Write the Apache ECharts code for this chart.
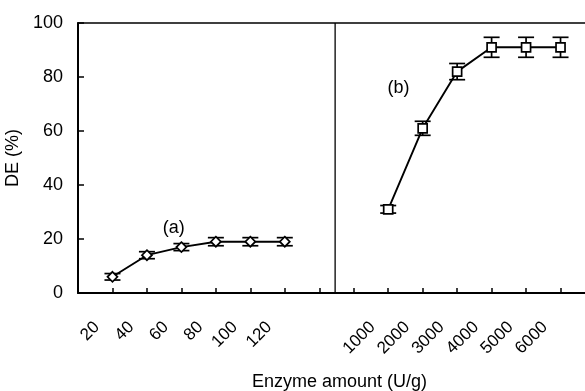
<!DOCTYPE html>
<html>
<head>
<meta charset="utf-8">
<script src="https://cdn.jsdelivr.net/npm/echarts@6/dist/echarts.min.js"></script>
<style>
html,body{margin:0;padding:0;background:#fff;}
#c{width:585px;height:391px;}
</style>
</head>
<body>
<div id="c"></div>
<script>
// ---- data ----
const categories = ['', '20', '40', '60', '80', '100', '120', '', '', '1000', '2000', '3000', '4000', '5000', '6000', ''];
const idxA = [1, 2, 3, 4, 5, 6];
const valuesA = [6, 14, 17, 19, 19, 19];
const errA = [1.2, 1.3, 1.3, 1.5, 1.5, 1.5];
const idxB = [9, 10, 11, 12, 13, 14];
const valuesB = [31, 61, 82, 91, 91, 91];
const errB = [1.4, 2.6, 3.0, 3.7, 3.7, 3.7];
const yTicks = [0, 20, 40, 60, 80, 100];
const labelA = {text: '(a)', x: 2.78, y: 24};
const labelB = {text: '(b)', x: 9.3, y: 76};
const separatorX = 7.46;

const FONT = "'Liberation Sans', Arial, sans-serif";

function fullSeries(idx, vals) {
  const arr = categories.map(() => null);
  idx.forEach((k, i) => { arr[k] = vals[i]; });
  return arr;
}
function errData(idx, vals, errs) {
  return idx.map((k, i) => [k, vals[i] - errs[i], vals[i] + errs[i]]);
}

function renderErr(params, api) {
  const x = api.value(0);
  const lo = api.coord([x, api.value(1)]);
  const hi = api.coord([x, api.value(2)]);
  const hw = 8;
  const st = {stroke: '#000', lineWidth: 1.7, fill: null};
  return {
    type: 'group',
    children: [
      {type: 'line', shape: {x1: lo[0], y1: lo[1], x2: hi[0], y2: hi[1]}, style: st},
      {type: 'line', shape: {x1: lo[0] - hw, y1: lo[1], x2: lo[0] + hw, y2: lo[1]}, style: st},
      {type: 'line', shape: {x1: hi[0] - hw, y1: hi[1], x2: hi[0] + hw, y2: hi[1]}, style: st}
    ]
  };
}

const chart = echarts.init(document.getElementById('c'), null, {renderer: 'canvas'});
const option = {
  animation: false,
  backgroundColor: '#fff',
  textStyle: {fontFamily: FONT},
  grid: {left: 78, top: 23, width: 517, height: 270, outerBoundsMode: 'none', containLabel: false},
  xAxis: [{
    type: 'category',
    data: categories,
    boundaryGap: false,
    position: 'bottom',
    name: 'Enzyme amount (U/g)',
    nameLocation: 'middle',
    nameGap: 80,
    nameTextStyle: {fontSize: 18, color: '#000', fontFamily: FONT, padding: [0, 0, 0, 6]},
    axisLine: {lineStyle: {color: '#000', width: 2}},
    axisTick: {inside: true, length: 5, lineStyle: {color: '#000', width: 1.5},
      interval: function (i) { return i > 0 && i < categories.length - 1; }},
    axisLabel: {rotate: 45, interval: 0, margin: 16, padding: [0, 22, 0, 0],
      fontSize: 17, color: '#000', fontFamily: FONT},
    splitLine: {show: false}
  }, {
    type: 'value',
    min: 0, max: categories.length - 1,
    position: 'top',
    axisLine: {show: true, onZero: false, lineStyle: {color: '#000', width: 1.5}},
    axisTick: {show: false},
    axisLabel: {show: false},
    splitLine: {show: false}
  }],
  yAxis: {
    type: 'value',
    min: yTicks[0], max: yTicks[yTicks.length - 1], interval: yTicks[1] - yTicks[0],
    name: 'DE (%)',
    nameLocation: 'middle',
    nameGap: 49,
    nameTextStyle: {fontSize: 18, color: '#000', fontFamily: FONT},
    axisLine: {show: true, lineStyle: {color: '#000', width: 2}},
    axisTick: {show: true, inside: true, length: 6, lineStyle: {color: '#000', width: 1.5}},
    axisLabel: {margin: 15, fontSize: 18, color: '#000', fontFamily: FONT},
    splitLine: {show: false}
  },
  series: [
    {type: 'custom', xAxisIndex: 0, renderItem: renderErr, data: errData(idxA, valuesA, errA), z: 1, encode: {x: 0, y: [1, 2]}},
    {type: 'custom', xAxisIndex: 0, renderItem: renderErr, data: errData(idxB, valuesB, errB), z: 1, encode: {x: 0, y: [1, 2]}},
    {type: 'line', xAxisIndex: 0, data: fullSeries(idxA, valuesA), connectNulls: false,
      symbol: 'diamond', symbolSize: 10, showAllSymbol: true,
      lineStyle: {color: '#000', width: 1.9},
      itemStyle: {color: '#fff', borderColor: '#000', borderWidth: 1.7}, z: 3},
    {type: 'line', xAxisIndex: 0, data: fullSeries(idxB, valuesB), connectNulls: false,
      symbol: 'rect', symbolSize: 9, showAllSymbol: true,
      lineStyle: {color: '#000', width: 1.9},
      itemStyle: {color: '#fff', borderColor: '#000', borderWidth: 1.7}, z: 3}
  ]
};
chart.setOption(option);

const pA = chart.convertToPixel({xAxisIndex: 1, yAxisIndex: 0}, [labelA.x, labelA.y]);
const pB = chart.convertToPixel({xAxisIndex: 1, yAxisIndex: 0}, [labelB.x, labelB.y]);
const s0 = chart.convertToPixel({xAxisIndex: 1, yAxisIndex: 0}, [separatorX, yTicks[0]]);
const s1 = chart.convertToPixel({xAxisIndex: 1, yAxisIndex: 0}, [separatorX, yTicks[yTicks.length - 1]]);
chart.setOption({
  graphic: [
    {type: 'line', shape: {x1: s0[0], y1: s0[1], x2: s1[0], y2: s1[1]}, style: {stroke: '#000', lineWidth: 1.3}, z: 5},
    {type: 'text', x: pA[0], y: pA[1], style: {text: labelA.text, font: '18px ' + FONT, fill: '#000', textAlign: 'center', textVerticalAlign: 'middle'}, z: 5},
    {type: 'text', x: pB[0], y: pB[1], style: {text: labelB.text, font: '18px ' + FONT, fill: '#000', textAlign: 'center', textVerticalAlign: 'middle'}, z: 5}
  ]
});
</script>
</body>
</html>
